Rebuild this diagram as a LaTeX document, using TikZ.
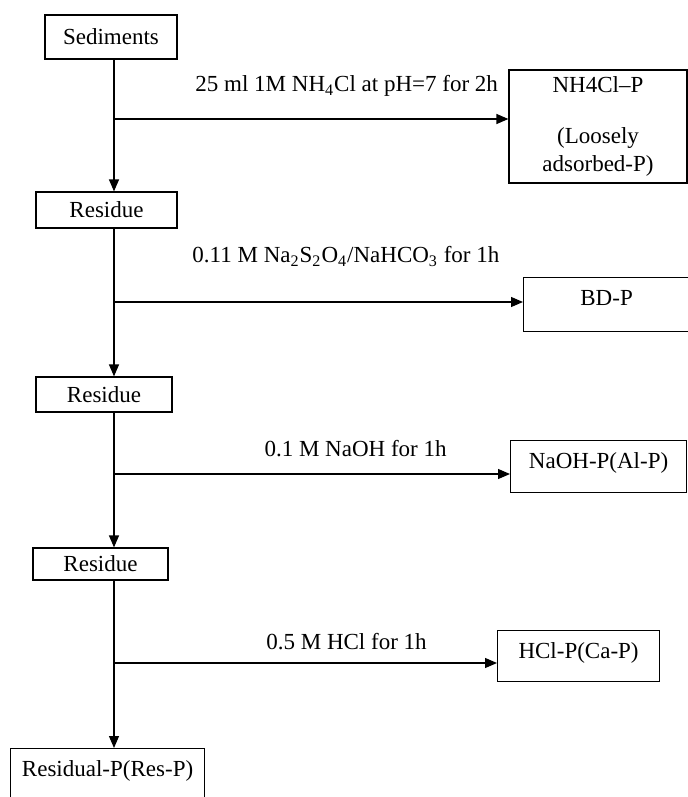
\documentclass[tikz,border=0pt]{standalone}
\usepackage{fontspec}
\setmainfont{Liberation Serif}
\usetikzlibrary{arrows.meta, positioning}

\begin{document}
\begin{tikzpicture}[
        x=0.5pt, y=-0.5pt,
        every node/.style={font=\fontsize{11.5}{14}\selectfont},
        stage/.style={rectangle, draw, align=center, line width=0.6pt},
        fraction/.style={rectangle, draw, anchor=north west, inner sep=0pt, text height=14pt, line width=0.6pt},
        arrow/.style={-{Triangle[length=6pt, width=5pt]}, line width=0.6pt},
        step label/.style={anchor=base}
        ]

        \clip (0,0) rectangle (688,797);

        % Nodes
        \node (sed) [stage, minimum width=66pt, minimum height=22pt] at (111,37) {Sediments};
        \node (res1) [stage, minimum width=70.5pt, minimum height=18pt] at (106.5,210) {Residue};
        \node (res2) [stage, minimum width=68pt, minimum height=17.5pt] at (104,394.5) {Residue};
        \node (res3) [stage, minimum width=67.5pt, minimum height=16pt] at (100.5,564) {Residue};
        \node (resp) [fraction, minimum width=97pt, text depth=13pt] at (10,748) {Residual-P(Res-P)};

        \node (nh4p) [stage, minimum width=89pt, minimum height=56.5pt] at (598,126.5) {NH4Cl--P\\[11.5pt](Loosely\\adsorbed-P)};
        \node (bdp) [fraction, minimum width=83pt, text depth=13pt] at (523,277) {BD-P};
        \node (naohp) [fraction, minimum width=88pt, text depth=12pt] at (510,440) {NaOH-P(Al-P)};
        \node (hclp) [fraction, minimum width=81pt, text depth=11.5pt] at (497,630) {HCl-P(Ca-P)};

        % Branch points
        \coordinate (b1) at (114,119);
        \coordinate (b2) at (114,302);
        \coordinate (b3) at (114,474);
        \coordinate (b4) at (114,663);

        % Arrows down the residue line
        \draw [arrow] (sed.south -| b1) -- (res1.north -| b1);
        \draw [arrow] (res1.south -| b2) -- (res2.north -| b2);
        \draw [arrow] (res2.south -| b3) -- (res3.north -| b3);
        \draw [arrow] (res3.south -| b4) -- (resp.north -| b4);

        % Arrows with labels
        \draw [arrow] (b1) -- node[step label, pos=0.59, yshift=13.75pt] {25 ml 1M NH\textsubscript{4}Cl at pH=7 for 2h} (b1 -| nh4p.west);
        \draw [arrow] (b2) -- node[step label, pos=0.567, yshift=19.75pt] {0.11 M Na\textsubscript{2}S\textsubscript{2}O\textsubscript{4}/NaHCO\textsubscript{3} for 1h} (b2 -| bdp.west);
        \draw [arrow] (b3) -- node[step label, pos=0.61, yshift=8.75pt] {0.1 M NaOH for 1h} (b3 -| naohp.west);
        \draw [arrow] (b4) -- node[step label, pos=0.607, yshift=7pt] {0.5 M HCl for 1h} (b4 -| hclp.west);

    \end{tikzpicture}
\end{document}
